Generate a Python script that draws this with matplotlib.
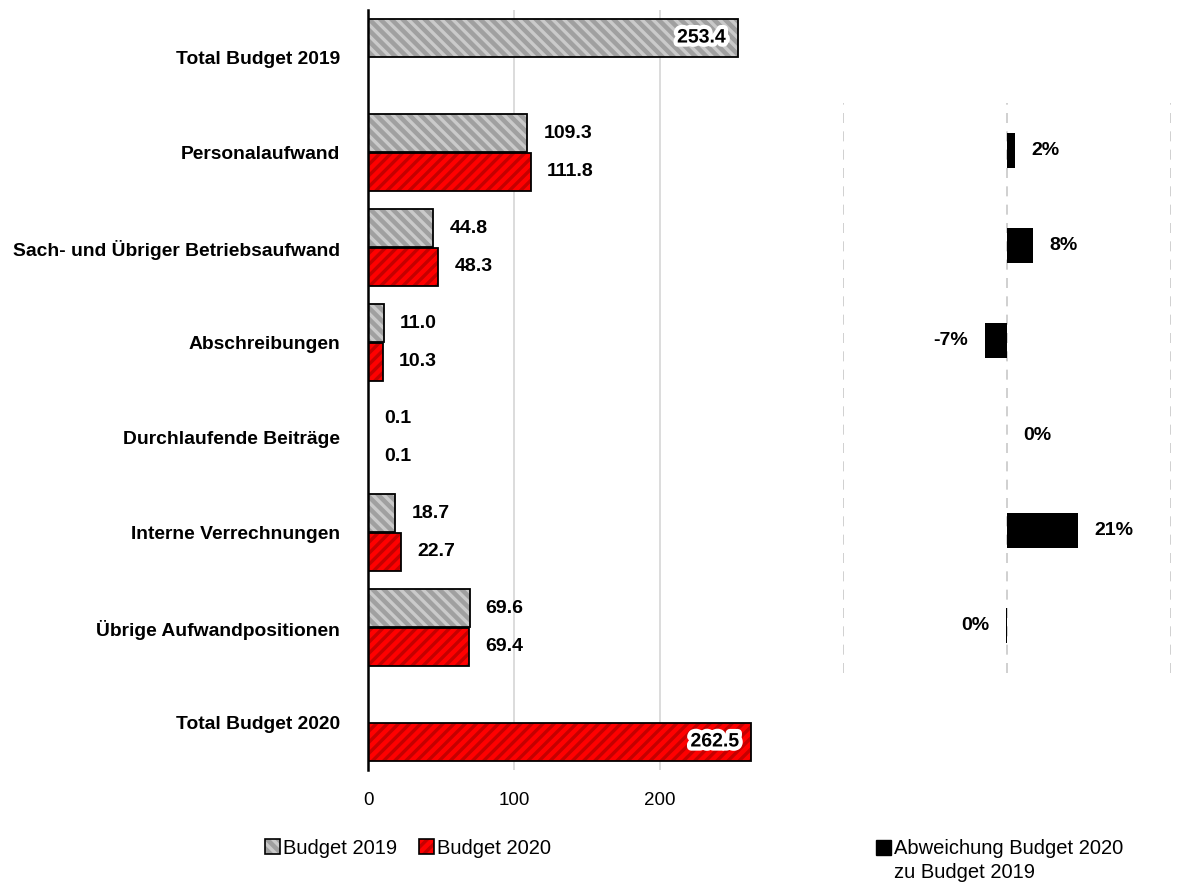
import numpy as np
import matplotlib
matplotlib.use("Agg")
import matplotlib.pyplot as plt
import matplotlib.patheffects as pe
from matplotlib.patches import Patch

# ----------------------------------------------------------------------
# data
# ----------------------------------------------------------------------
categories = ["Total Budget 2019", "Personalaufwand", "Sach- und Übriger Betriebsaufwand",
              "Abschreibungen", "Durchlaufende Beiträge", "Interne Verrechnungen",
              "Übrige Aufwandpositionen", "Total Budget 2020"]
budget_2019 = [253.4, 109.3, 44.8, 11.0, 0.1, 18.7, 69.6, np.nan]
budget_2020 = [np.nan, 111.8, 48.3, 10.3, 0.1, 22.7, 69.4, 262.5]

dev_rows = [1, 2, 3, 4, 5, 6]
deviation = [0.023, 0.08, -0.068, 0.0, 0.215, -0.003]
dev_labels = ["2%", "8%", "-7%", "0%", "21%", "0%"]

NARROW = ["Liberation Sans Narrow", "Liberation Sans", "DejaVu Sans"]
ARIAL = ["Liberation Sans", "DejaVu Sans"]
plt.rcParams["font.family"] = ARIAL
plt.rcParams["hatch.linewidth"] = 2.4

GREY, GREY_H = "#a0a0a0", "#cacaca"
RED, RED_H = "#ff0000", "#c40000"
HATCH_G, HATCH_R = "\\\\\\", "///"


def hatched_barh(ax, y, w, h, face, hatch_col, hatch):
    ax.barh(y, w, height=h, color=face, linewidth=0, zorder=2)
    ax.barh(y, w, height=h, color="none", edgecolor=hatch_col, hatch=hatch, linewidth=0, zorder=3)
    ax.barh(y, w, height=h, color="none", edgecolor="black", linewidth=1.3, zorder=4)


fig = plt.figure(figsize=(11.78, 8.90), dpi=100)

# ----------------------------------------------------------------------
# left panel: budget values
# ----------------------------------------------------------------------
ax = fig.add_axes([368 / 1178, 1 - 770 / 890, 423 / 1178, 760 / 890])
y = np.arange(len(categories))
off, h = 0.205, 0.4
hatched_barh(ax, y - off, budget_2019, h, GREY, GREY_H, HATCH_G)
hatched_barh(ax, y + off, budget_2020, h, RED, RED_H, HATCH_R)

ax.set_xlim(0, 290)
ax.set_ylim(7.5, -0.5)
ax.set_yticks(y)
ax.set_yticklabels(categories, fontsize=13.9, fontweight="bold")
ax.set_xticks([0, 100, 200])
ax.tick_params(length=0)
ax.tick_params(axis="y", pad=20)
ax.tick_params(axis="x", pad=16, labelsize=13.5)
ax.grid(axis="x", color="#d9d9d9", linewidth=1.3, zorder=0)
ax.set_axisbelow(True)
for s in ["top", "right", "bottom"]:
    ax.spines[s].set_visible(False)
ax.spines["left"].set_linewidth(1.8)
ax.spines["left"].set_zorder(5)

lbl = dict(fontsize=14, fontweight="bold", family=NARROW, va="center")
glow = [pe.withStroke(linewidth=6, foreground="white")]
for i in y:
    for val, dy in [(budget_2019[i], -off), (budget_2020[i], off)]:
        if np.isnan(val):
            continue
        if i in (0, len(categories) - 1):
            ax.text(val - 8, i + dy, f"{val:.1f}", ha="right", path_effects=glow, zorder=6, **lbl)
        else:
            ax.text(val + 11, i + dy, f"{val:.1f}", ha="left", **lbl)


class HatchHandler:
    """legend key: solid face, coloured hatch, black frame"""
    def __init__(self, face, hcol, hatch):
        self.face, self.hcol, self.hatch = face, hcol, hatch

    def legend_artist(self, legend, orig_handle, fontsize, handlebox):
        x0, y0 = handlebox.xdescent, handlebox.ydescent
        w, hh = handlebox.width, handlebox.height
        tr = handlebox.get_transform()
        for kw in (dict(facecolor=self.face, linewidth=0),
                   dict(facecolor="none", edgecolor=self.hcol, hatch=self.hatch, linewidth=0),
                   dict(facecolor="none", edgecolor="black", linewidth=1.2)):
            p = plt.Rectangle((x0, y0), w, hh, transform=tr, **kw)
            handlebox.add_artist(p)
        return p


h19, h20 = Patch(), Patch()
ax.legend(handles=[h19, h20], labels=["Budget 2019", "Budget 2020"], loc="center",
          handler_map={h19: HatchHandler(GREY, GREY_H, HATCH_G),
                       h20: HatchHandler(RED, RED_H, HATCH_R)},
          bbox_to_anchor=(408 / 1178, 1 - 849 / 890), bbox_transform=fig.transFigure,
          ncol=2, frameon=False, prop={"size": 14.5},
          handlelength=0.75, handleheight=0.75, handletextpad=0.15, columnspacing=1.1)

# ----------------------------------------------------------------------
# right panel: deviation 2020 vs 2019
# ----------------------------------------------------------------------
ax2 = fig.add_axes([843 / 1178, 1 - 673 / 890, 328 / 1178, 570 / 890])
ax2.barh(dev_rows, deviation, height=0.37, color="black", zorder=3)
ax2.set_xlim(-0.5, 0.5)
ax2.set_ylim(6.5, 0.5)
ax2.set_xticks([-0.5, 0, 0.5])
ax2.set_xticklabels([])
ax2.set_yticks([])
ax2.tick_params(length=0)
ax2.grid(axis="x", color="#c8c8c8", linewidth=1.2, linestyle=(0, (6, 5)), zorder=0)
for s in ax2.spines.values():
    s.set_visible(False)
for r, d, t in zip(dev_rows, deviation, dev_labels):
    if d > 0 or r == 4:
        ax2.text(d + 0.05, r, t, ha="left", **lbl)
    else:
        ax2.text(d - 0.05, r, t, ha="right", **lbl)

fig.legend(handles=[Patch(facecolor="black", edgecolor="black")],
           labels=["Abweichung Budget 2020"], loc="center left",
           bbox_to_anchor=(858 / 1178, 1 - 849 / 890), frameon=False,
           prop={"size": 14.5},
           handlelength=0.75, handleheight=0.75, handletextpad=0.15)
fig.text(894 / 1178, 1 - 873 / 890, "zu Budget 2019", fontsize=14.5, va="center", ha="left")

fig.savefig("out.png", dpi=100)
